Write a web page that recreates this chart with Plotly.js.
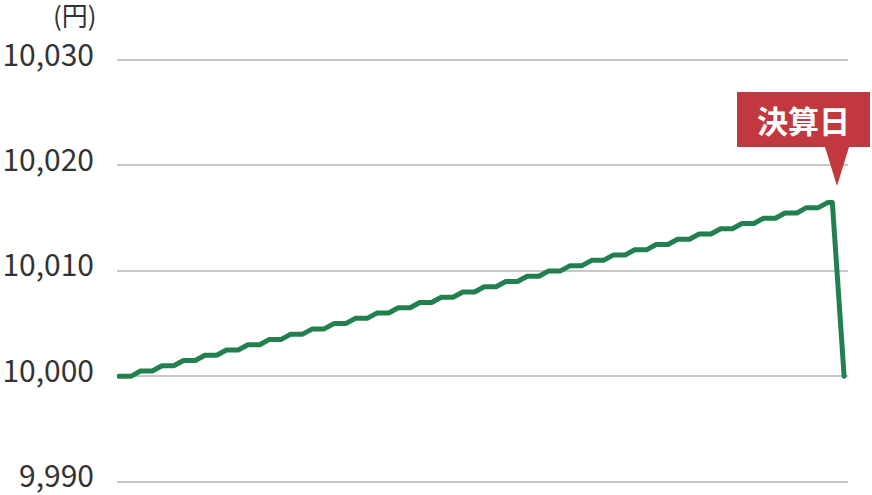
<!DOCTYPE html>
<html><head><meta charset="utf-8">
<script src="https://cdn.plot.ly/plotly-3.0.1.min.js"></script>
<style>
html,body{margin:0;padding:0;background:#fff}
#chart{width:872px;height:495px}
#chart .scatterlayer .js-line{stroke-linecap:round;stroke-linejoin:round}
</style>
</head><body><div id="chart"></div>
<script>
// ---- data ----
const days = [0,1,2,3,4,5,6,7,8,9,10,11,12,13,14,15,16,17,18,19,20,21,22,23,24,25,26,27,28,29,30,31,32,33];
const nav = [10000,10000.5,10001,10001.5,10002,10002.5,10003,10003.5,10004,10004.5,
             10005,10005.5,10006,10006.5,10007,10007.5,10008,10008.5,10009,10009.5,
             10010,10010.5,10011,10011.5,10012,10012.5,10013,10013.5,10014,10014.5,
             10015,10015.5,10016,10016.5];
const settlementDay = 33.75;
const settlementNav = 10000;
const yTicks = [9990,10000,10010,10020,10030];
const yTickLabels = ['9,990','10,000','10,010','10,020','10,030'];
const unitLabel = '(円)';
const calloutText = '決算日';

// ---- build stepped path: each day's value held, then ramps to next ----
const xs = [], ys = [];
for (let i = 0; i < days.length; i++) {
  const hold = i < days.length - 1 ? 0.55 : 0.2;
  xs.push(days[i]); ys.push(nav[i]);
  xs.push(days[i] + hold); ys.push(nav[i]);
}
xs.push(settlementDay); ys.push(settlementNav);

const W = 872, H = 495;
const M = {l:117, r:24, t:39, b:8};
const pw = W - M.l - M.r, ph = H - M.t - M.b;
const px = x => (x - M.l) / pw;
const py = y => 1 - (y - M.t) / ph;

const FONT = '"Noto Sans CJK JP", "Noto Sans", sans-serif';
const RED = '#c1393f';

// callout box with pointer (paper coords)
const bx0 = 737, bx1 = 870, by0 = 92, by1 = 147, tipX = 837, tipY = 186, bw = 12;
const path = `M ${px(bx0)} ${py(by0)} L ${px(bx1)} ${py(by0)} L ${px(bx1)} ${py(by1)} ` +
  `L ${px(tipX + bw)} ${py(by1)} L ${px(tipX)} ${py(tipY)} L ${px(tipX - bw)} ${py(by1)} ` +
  `L ${px(bx0)} ${py(by1)} Z`;

const data = [{
  x: xs, y: ys, type: 'scatter', mode: 'lines',
  line: {color: '#22804f', width: 5},
  hoverinfo: 'skip', showlegend: false
}];

const layout = {
  width: W, height: H,
  margin: M,
  paper_bgcolor: '#fff', plot_bgcolor: '#fff',
  font: {family: FONT, color: '#333', size: 30},
  xaxis: {range: [-0.093, 33.93], showgrid: false, zeroline: false, showline: false,
          showticklabels: false, ticks: '', fixedrange: true},
  yaxis: {range: [9989.5, 10032], tickvals: yTicks, ticktext: yTickLabels,
          showgrid: true, gridcolor: '#c8c8c8', gridwidth: 2, zeroline: false,
          showline: false, ticks: '', ticklabelstandoff: 22, ticklabelshift: -5,
          ticklabeloverflow: 'allow',
          tickfont: {family: FONT, size: 30, color: '#333'}, fixedrange: true},
  shapes: [{type: 'path', xref: 'paper', yref: 'paper', path: path,
            fillcolor: RED, line: {width: 0}, layer: 'above'}],
  annotations: [
    {xref: 'paper', yref: 'paper', x: px(75), y: py(15), text: unitLabel, showarrow: false,
     xanchor: 'center', yanchor: 'middle', font: {family: FONT, size: 26, color: '#333'}},
    {xref: 'paper', yref: 'paper', x: px((bx0 + bx1) / 2), y: py((by0 + by1) / 2), text: '<b>' + calloutText + '</b>',
     showarrow: false, xanchor: 'center', yanchor: 'middle',
     font: {family: FONT, size: 31, color: '#fff'}}
  ]
};

Plotly.newPlot('chart', data, layout, {staticPlot: true, displayModeBar: false});
</script>
</body></html>
